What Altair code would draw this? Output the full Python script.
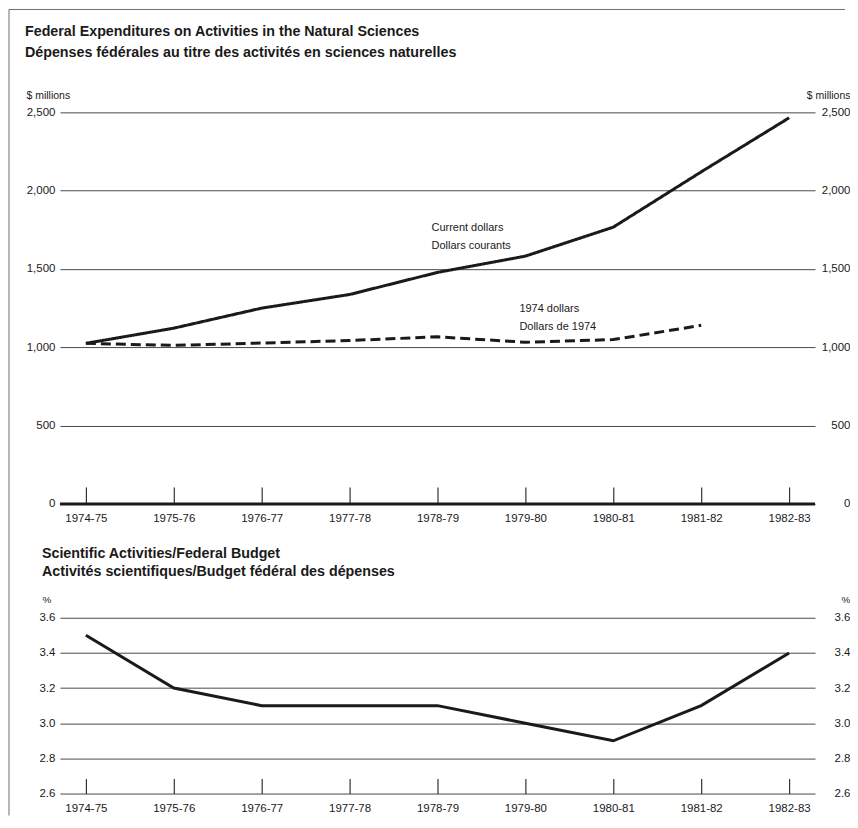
import altair as alt
import pandas as pd

# ---------------- data ----------------
years = ["1974-75", "1975-76", "1976-77", "1977-78", "1978-79",
         "1979-80", "1980-81", "1981-82", "1982-83"]
current_dollars = [1025, 1122, 1250, 1337, 1478, 1582, 1767, 2120, 2465]
dollars_1974 = [1025, 1012, 1027, 1043, 1067, 1032, 1049, 1140, None]
science_share = [3.5, 3.2, 3.1, 3.1, 3.1, 3.0, 2.9, 3.1, 3.4]
series_names = ["Current dollars", "1974 dollars"]

top_ticks = [0, 500, 1000, 1500, 2000, 2500]
bottom_ticks = [2.6, 2.8, 3.0, 3.2, 3.4, 3.6]
baseline = [0]

rows = []
for name, vals in zip(series_names, [current_dollars, dollars_1974]):
    for yr, v in zip(years, vals):
        if v is not None:
            rows.append({"year": yr, "series": name, "value": v})
df_top = pd.DataFrame(rows)
df_bot = pd.DataFrame({"year": years, "share": science_share})
df_base = pd.DataFrame({"base": baseline})

# ---------------- style ----------------
W, H1, H2 = 756, 392, 176
GAP = 114
FONT = "Liberation Sans"
NARROW = "Liberation Sans Narrow, Liberation Sans"
INK = "#1a1a1a"
GRID = "#4a4a4a"
FRAME = "#6e6e6e"
FX, FY = -51, -103   # frame offsets from the top plot's corner

xscale = alt.Scale(type="point", domain=years, padding=0.295)


def x_axis(tick_len, pad, font, size):
    return alt.X(
        "year:N", scale=xscale, sort=years, title=None,
        axis=alt.Axis(orient="bottom", offset=-tick_len, tickSize=tick_len,
                      domain=False, grid=False, labelAngle=0, labelPadding=pad,
                      labelFont=font, labelFontSize=size, labelColor=INK,
                      tickColor="#333333", tickWidth=1.2),
    )


def text_layer(txt, x, y, size=11, bold=False, align="left"):
    return alt.Chart(df_base).mark_text(
        text=txt, align=align, baseline="middle", font=FONT, fontSize=size,
        fontWeight="bold" if bold else "normal", color=INK,
    ).encode(x=alt.value(x), y=alt.value(y))


def frame_rule(x, x2, y, y2):
    return alt.Chart(df_base).mark_rule(color=FRAME, strokeWidth=1).encode(
        x=alt.value(x), x2=alt.value(x2), y=alt.value(y), y2=alt.value(y2)
    )


# ---------------- top chart ----------------
yscale_top = alt.Scale(domain=[0, 2500], nice=False)

lines_top = alt.Chart(df_top).mark_line(strokeWidth=3, color=INK).encode(
    x=x_axis(17, 9, FONT, 11.5),
    y=alt.Y("value:Q", scale=yscale_top,
            axis=alt.Axis(orient="left", values=top_ticks, format=",.0f", grid=True,
                          gridColor=GRID, gridWidth=1, domain=False, ticks=False,
                          labelPadding=5, labelFont=FONT, labelFontSize=11.5,
                          labelColor=INK, title="$ millions", titleAngle=0,
                          titleAlign="left", titleBaseline="middle", titleX=-34,
                          titleY=-17, titleFont=FONT, titleFontSize=10.5,
                          titleFontWeight="normal", titleColor=INK)),
    strokeDash=alt.StrokeDash("series:N",
                              scale=alt.Scale(domain=series_names,
                                              range=[[1, 0], [10, 5]]),
                              legend=None),
)

right_top = alt.Chart(df_top).mark_rule(opacity=0).encode(
    y=alt.Y("value:Q", scale=yscale_top,
            axis=alt.Axis(orient="right", values=top_ticks, format=",.0f", grid=False,
                          domain=False, ticks=False, tickSize=0, labelAlign="right",
                          labelPadding=35, labelFont=FONT, labelFontSize=11.5,
                          labelColor=INK, title="$ millions", titleAngle=0,
                          titleAlign="right", titleBaseline="middle", titleX=35,
                          titleY=-17, titleFont=FONT, titleFontSize=10.5,
                          titleFontWeight="normal", titleColor=INK)),
)

zero_line = alt.Chart(df_base).mark_rule(strokeWidth=3, color=INK).encode(
    y=alt.Y("base:Q", scale=yscale_top, axis=None)
)

top = alt.layer(
    frame_rule(FX, W + 30, FY, FY),
    lines_top, right_top, zero_line,
    text_layer("Federal Expenditures on Activities in the Natural Sciences", -35, -80, 14.3, True),
    text_layer("Dépenses fédérales au titre des activités en sciences naturelles", -35, -59, 14.3, True),
    text_layer("Current dollars", 372, 116),
    text_layer("Dollars courants", 372, 134),
    text_layer("1974 dollars", 460, 197),
    text_layer("Dollars de 1974", 460, 215),
).resolve_axis(y="independent").properties(width=W, height=H1)

# ---------------- bottom chart ----------------
yscale_bot = alt.Scale(domain=[2.6, 3.6], nice=False, zero=False)

line_bot = alt.Chart(df_bot).mark_line(strokeWidth=3, color=INK).encode(
    x=x_axis(15, 9, NARROW, 11.5),
    y=alt.Y("share:Q", scale=yscale_bot,
            axis=alt.Axis(orient="left", values=bottom_ticks, format=".1f", grid=True,
                          gridColor=GRID, gridWidth=1, domain=False, ticks=False,
                          labelPadding=5, labelFont=NARROW, labelFontSize=11.5,
                          labelColor=INK, title="%", titleAngle=0,
                          titleAlign="left", titleBaseline="middle", titleX=-18,
                          titleY=-18, titleFont=NARROW, titleFontSize=10,
                          titleFontWeight="normal", titleColor=INK)),
)

right_bot = alt.Chart(df_bot).mark_rule(opacity=0).encode(
    y=alt.Y("share:Q", scale=yscale_bot,
            axis=alt.Axis(orient="right", values=bottom_ticks, format=".1f",
                          grid=False, domain=False, ticks=False, tickSize=0,
                          labelAlign="right", labelPadding=35, labelFont=NARROW,
                          labelFontSize=11.5, labelColor=INK, title="%",
                          titleAngle=0, titleAlign="right", titleBaseline="middle",
                          titleX=35, titleY=-18, titleFont=NARROW, titleFontSize=10,
                          titleFontWeight="normal", titleColor=INK)),
)

bottom = alt.layer(
    frame_rule(FX, FX, FY - H1 - GAP, H2 + 22),
    line_bot, right_bot,
    text_layer("Scientific Activities/Federal Budget", -18, -64, 14.3, True),
    text_layer("Activités scientifiques/Budget fédéral des dépenses", -18, -46, 14.3, True),
).resolve_axis(y="independent").properties(width=W, height=H2)

chart = alt.vconcat(top, bottom, spacing=GAP, bounds="flush").properties(
    padding={"left": 0, "top": 0, "right": 0, "bottom": 0},
    background="white",
).configure_view(stroke=None)

chart.save("out.html", embed_options={"renderer": "svg", "actions": False})
